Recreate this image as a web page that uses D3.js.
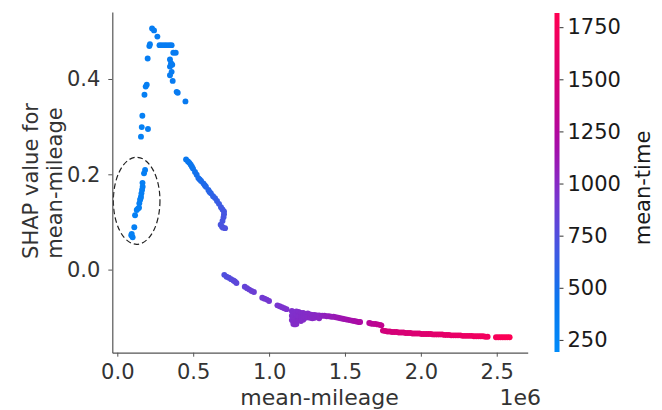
<!DOCTYPE html>
<html><head><meta charset="utf-8">
<script src="https://cdn.jsdelivr.net/npm/d3@7"></script>
<style>
body{margin:0;background:#fff}
text{font-family:"DejaVu Sans",sans-serif}
</style>
</head><body>
<svg id="chart" width="662" height="410"></svg>
<script>
// mean-mileage (km), SHAP value for mean-mileage, and mean-time for each observation
const mileage = [
  156000,161000,202000,165000,179000,187000,194000,200000,211000,215000,229000,242000,264000,
  278000,294000,311000,327000,344000,358000,369000,385000,347000,354000,362000,347000,358000,
  347000,365000,391000,398000,449000,
  183000,176000,166000,167000,163000,159000,156000,153000,150000,145000,143000,136000,128000,
  117000,112000,95000,92000,101000,
  453000,466000,475000,484000,492000,499000,512000,523000,534000,543000,552000,567000,576000,
  584000,600000,608000,617000,631000,644000,657000,670000,683000,693000,703000,703000,700000,
  693000,681000,690000,697000,710000,
  705000,720000,735000,750000,765000,775000,785000,
  840000,855000,870000,885000,900000,
  955000,970000,985000,1000000,
  1055000,1070000,1085000,1100000,1115000,
  1150000,1150000,1150000,1160000,1160000,1160000,1160000,1170000,1170000,1170000,
  1180000,1180000,1180000,1180000,1195000,1195000,1195000,1210000,1210000,1210000,1225000,
  1225000,1225000,1240000,1240000,1255000,1255000,1270000,1270000,1285000,1285000,1300000,
  1300000,1315000,1330000,1330000,
  1350000,1365000,1380000,1395000,1410000,1425000,1440000,1455000,1470000,1485000,1500000,
  1515000,1530000,1545000,1560000,1575000,1590000,1600000,
  1660000,1670000,1685000,1700000,1715000,1730000,1740000,
  1750000,1765000,1780000,1795000,1810000,1825000,1840000,1855000,1870000,1885000,1900000,
  1915000,1930000,1945000,1960000,1975000,1990000,2005000,2020000,2035000,2050000,2065000,
  2080000,2095000,2110000,2125000,2140000,2155000,2170000,2185000,2200000,2215000,2230000,
  2245000,2260000,2275000,2290000,2305000,2320000,2335000,2350000,2365000,2380000,2395000,
  2410000,2425000,2440000,
  2495000,2510000,2525000,2540000,2555000,2570000,2585000
];
const shapValue = [
  0.279,0.299,0.295,0.323,0.367,0.384,0.388,0.443,0.469,0.473,0.506,0.502,0.489,
  0.471,0.471,0.471,0.471,0.471,0.471,0.455,0.455,0.441,0.433,0.430,0.426,0.415,
  0.408,0.396,0.373,0.371,0.353,
  0.209,0.202,0.182,0.174,0.167,0.160,0.153,0.149,0.146,0.139,0.130,0.128,0.125,
  0.114,0.089,0.075,0.072,0.068,
  0.231,0.227,0.224,0.220,0.216,0.212,0.205,0.199,0.192,0.189,0.186,0.181,0.177,
  0.174,0.167,0.163,0.160,0.154,0.150,0.144,0.138,0.131,0.126,0.122,0.116,0.110,
  0.102,0.094,0.090,0.088,0.087,
  -0.011,-0.015,-0.017,-0.020,-0.023,-0.025,-0.028,
  -0.036,-0.039,-0.042,-0.045,-0.047,
  -0.059,-0.061,-0.063,-0.066,
  -0.075,-0.077,-0.079,-0.081,-0.083,
  -0.087,-0.097,-0.106,-0.089,-0.102,-0.110,-0.114,-0.090,-0.105,-0.115,
  -0.088,-0.095,-0.108,-0.114,-0.089,-0.097,-0.106,-0.091,-0.100,-0.108,-0.091,
  -0.098,-0.105,-0.093,-0.101,-0.092,-0.100,-0.094,-0.101,-0.095,-0.102,-0.095,
  -0.101,-0.096,-0.096,-0.102,
  -0.097,-0.097,-0.098,-0.098,-0.099,-0.099,-0.100,-0.101,-0.102,-0.103,-0.104,
  -0.105,-0.106,-0.107,-0.108,-0.109,-0.110,-0.110,
  -0.112,-0.113,-0.114,-0.114,-0.115,-0.116,-0.117,
  -0.128,-0.129,-0.130,-0.130,-0.131,-0.131,-0.131,-0.132,-0.132,-0.132,-0.133,
  -0.133,-0.133,-0.134,-0.134,-0.134,-0.134,-0.135,-0.135,-0.135,-0.135,-0.135,
  -0.136,-0.136,-0.136,-0.136,-0.136,-0.137,-0.137,-0.137,-0.138,-0.138,-0.138,
  -0.138,-0.138,-0.139,-0.139,-0.139,-0.139,-0.139,-0.140,-0.140,-0.140,-0.140,
  -0.140,-0.141,-0.141,
  -0.142,-0.142,-0.142,-0.142,-0.142,-0.142,-0.142
];
const meanTime = [
  330,320,350,330,340,340,345,350,355,355,360,360,365,
  370,372,374,376,378,380,380,385,380,380,382,380,382,
  380,385,390,390,400,
  350,345,345,345,340,340,340,338,338,335,335,332,330,
  330,325,320,320,322,
  420,430,438,445,452,460,475,490,500,510,520,535,542,
  550,565,575,585,600,615,630,650,665,680,690,695,700,
  705,710,715,720,730,
  740,750,760,770,780,790,800,
  830,840,850,860,870,
  890,900,905,915,
  925,930,940,945,950,
  960,965,970,960,970,975,980,965,975,985,
  965,970,980,985,970,975,985,975,980,990,980,
  985,990,985,990,990,995,995,1000,1000,1005,1005,
  1010,1010,1015,1020,
  1040,1050,1060,1070,1080,1090,1100,1110,1120,1130,1140,
  1150,1160,1170,1180,1190,1200,1210,
  1265,1280,1295,1310,1320,1330,1340,
  1440,1446,1452,1458,1464,1470,1476,1482,1488,1494,1500,
  1506,1512,1518,1524,1530,1536,1542,1548,1554,1560,1566,
  1572,1578,1584,1590,1596,1602,1608,1614,1620,1626,1632,
  1638,1644,1650,1656,1662,1668,1674,1680,1686,1692,1698,
  1704,1710,1716,
  1745,1755,1765,1775,1785,1792,1800
];

const xTicks = [0, 500000, 1000000, 1500000, 2000000, 2500000];
const yTicks = [0, 0.2, 0.4];
const timeTicks = [250, 500, 750, 1000, 1250, 1500, 1750];

// red-blue colour ramp for mean-time
const rampValues = [192, 450, 700, 950, 1200, 1450, 1818];
const rampColors = ["#008bfa", "#0a76ee", "#4655e1", "#7d32cd", "#aa0aa5", "#d2007a", "#ff0052"];

const svg = d3.select("#chart");
const textColor = "#333333";

const x = d3.scaleLinear().domain([-33000, 2704000]).range([112.3, 527.7]);
const y = d3.scaleLinear().domain([-0.1744, 0.5406]).range([352.7, 12]);
const color = d3.scaleLinear().domain(rampValues).range(rampColors).interpolate(d3.interpolateRgb);

// dashed ellipse around the low-mileage group
const ell = {x0: -26000, x1: 281000, y0: 0.0531, y1: 0.2357};
svg.append("ellipse")
  .attr("cx", (x(ell.x0) + x(ell.x1)) / 2)
  .attr("cy", (y(ell.y0) + y(ell.y1)) / 2)
  .attr("rx", (x(ell.x1) - x(ell.x0)) / 2)
  .attr("ry", (y(ell.y0) - y(ell.y1)) / 2)
  .attr("fill", "none").attr("stroke", "#222").attr("stroke-width", 1.2)
  .attr("stroke-dasharray", "5.5,3");

// points
const idx = d3.range(mileage.length);
svg.append("g").selectAll("circle").data(idx).join("circle")
  .attr("cx", i => x(mileage[i]))
  .attr("cy", i => y(shapValue[i]))
  .attr("r", 2.95)
  .attr("fill", i => color(meanTime[i]));

// axes
const xAxis = svg.append("g").attr("transform", `translate(0,${y(-0.1744)})`)
  .call(d3.axisBottom(x).tickValues(xTicks).tickSize(4).tickSizeOuter(0).tickPadding(7)
    .tickFormat(d => (d / 1e6).toFixed(1)));
const yAxis = svg.append("g").attr("transform", `translate(${x(-33000)},0)`)
  .call(d3.axisLeft(y).tickValues(yTicks).tickSize(4).tickSizeOuter(0).tickPadding(8)
    .tickFormat(d3.format(".1f")));
[xAxis, yAxis].forEach(g => {
  g.select(".domain").attr("stroke", "#555").attr("stroke-width", 1.2);
  g.selectAll(".tick line").attr("stroke", "#555");
  g.selectAll(".tick text").attr("fill", textColor).style("font-size", "21px")
    .style("font-family", "DejaVu Sans");
});

svg.append("text").attr("x", 319.5).attr("y", 405).attr("text-anchor", "middle")
  .attr("fill", textColor).style("font-size", "22px").text("mean-mileage");
svg.append("text").attr("x", 541).attr("y", 405).attr("text-anchor", "end")
  .attr("fill", textColor).style("font-size", "22px").text("1e6");

const yLab = svg.append("g").attr("fill", textColor).style("font-size", "21px");
yLab.append("text").attr("transform", "translate(38,181) rotate(-90)")
  .attr("text-anchor", "middle").text("SHAP value for");
yLab.append("text").attr("transform", "translate(62,183) rotate(-90)")
  .attr("text-anchor", "middle").text("mean-mileage");

// colour bar
const cb = d3.scaleLinear().domain([192, 1818]).range([352, 13]);
const grad = svg.append("defs").append("linearGradient").attr("id", "cbar")
  .attr("x1", 0).attr("y1", 1).attr("x2", 0).attr("y2", 0);
d3.range(0, 1.0001, 0.05).forEach(t => {
  grad.append("stop").attr("offset", t)
    .attr("stop-color", color(192 + t * (1818 - 192)));
});
svg.append("rect").attr("x", 554.5).attr("y", cb(1818)).attr("width", 5)
  .attr("height", cb(192) - cb(1818)).attr("fill", "url(#cbar)");
const cbAxis = svg.append("g").attr("transform", "translate(559.5,0)")
  .call(d3.axisRight(cb).tickValues(timeTicks).tickSize(4).tickPadding(4)
    .tickFormat(d3.format("d")));
cbAxis.select(".domain").remove();
cbAxis.selectAll(".tick line").attr("stroke", "#333");
cbAxis.selectAll(".tick text").attr("fill", "#1a1a1a").style("font-size", "21px")
  .style("font-family", "DejaVu Sans");
svg.append("text").attr("transform", "translate(650,188) rotate(-90)")
  .attr("text-anchor", "middle").attr("fill", "#1a1a1a").style("font-size", "21px")
  .text("mean-time");
</script>
</body></html>
